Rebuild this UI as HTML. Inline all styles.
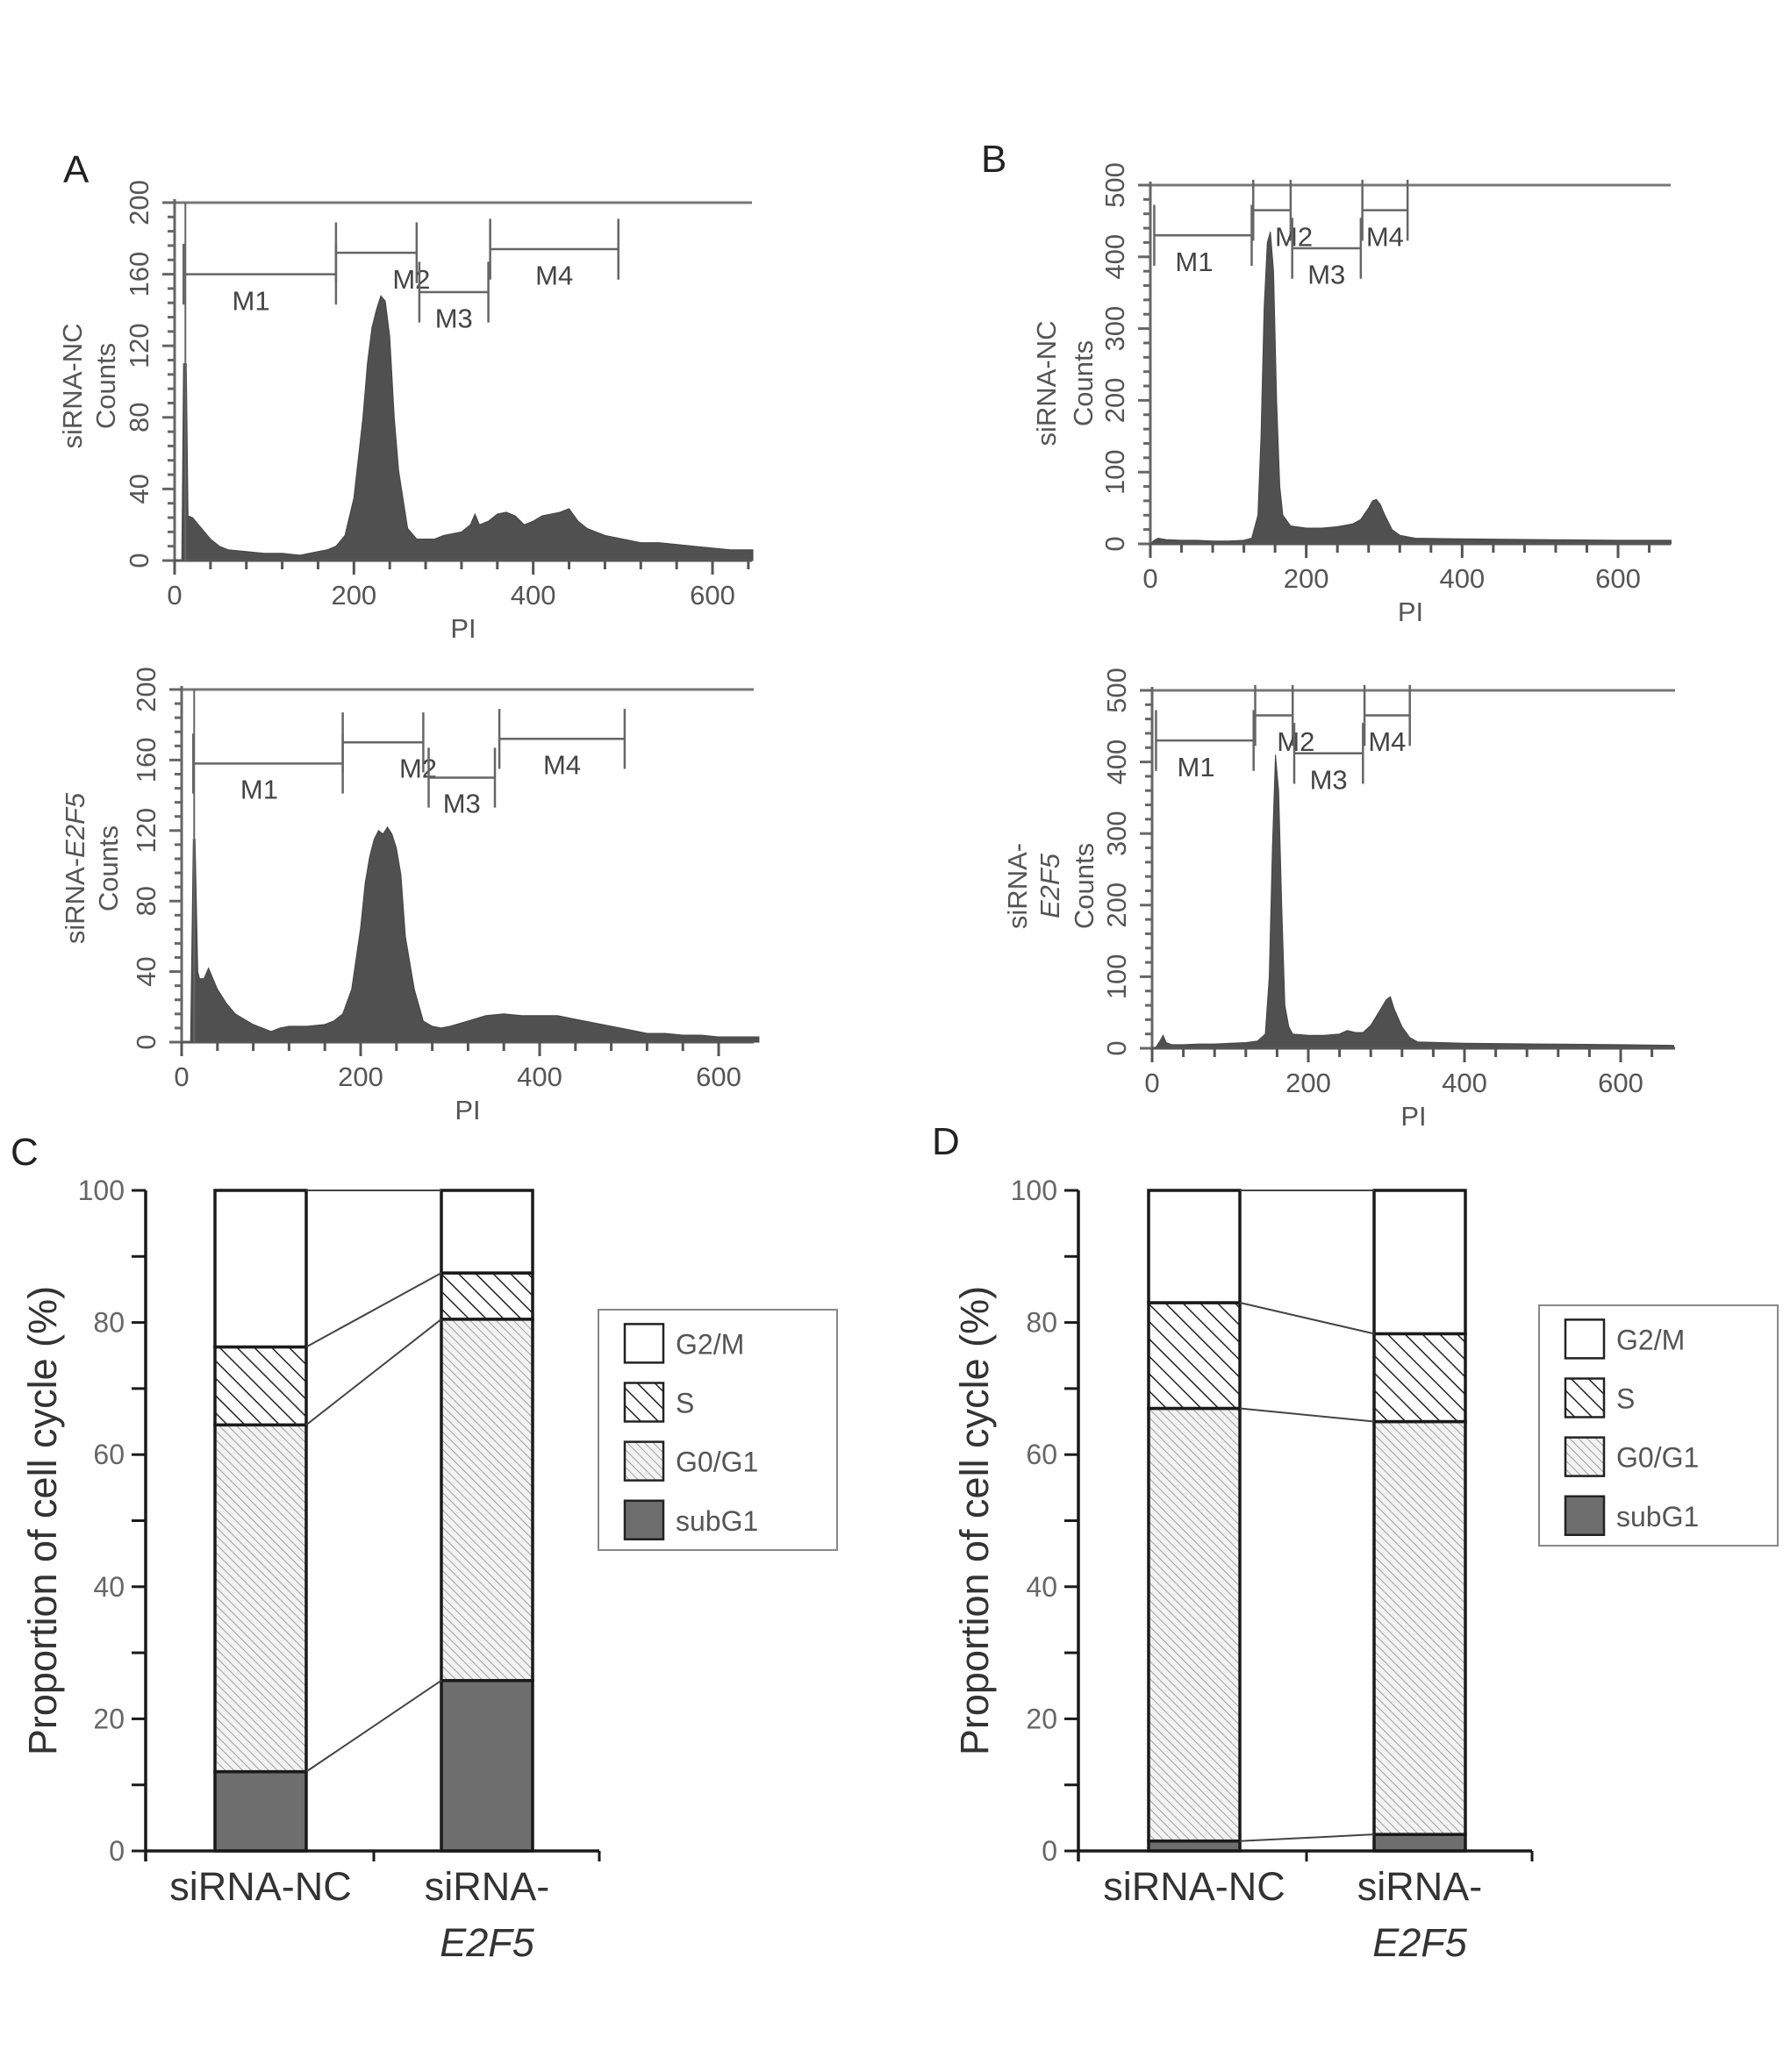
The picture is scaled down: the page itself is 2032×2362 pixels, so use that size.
<!DOCTYPE html>
<html><head><meta charset="utf-8">
<style>
html,body{margin:0;padding:0;background:#fff;}
svg{display:block;}
text{font-family:"Liberation Sans",Arial,sans-serif;}
</style></head>
<body>
<svg id="fig" xmlns="http://www.w3.org/2000/svg" width="2032" height="2362" viewBox="0 0 2032 2362">
<defs>
<pattern id="patG1" patternUnits="userSpaceOnUse" width="7" height="7" patternTransform="rotate(-45)">
<rect width="7" height="7" fill="#f2f2f2"/><line x1="0" y1="0" x2="0" y2="7" stroke="#8a8a8a" stroke-width="1.6"/></pattern>
<pattern id="patS" patternUnits="userSpaceOnUse" width="14" height="14" patternTransform="rotate(-45)">
<rect width="14" height="14" fill="#fff"/><line x1="0" y1="0" x2="0" y2="14" stroke="#222" stroke-width="3"/></pattern>
</defs>
<text x="72" y="208" font-size="44" fill="#222">A</text>
<text x="1118" y="196" font-size="44" fill="#222">B</text>
<text x="12" y="1328" font-size="44" fill="#222">C</text>
<text x="1062" y="1316" font-size="44" fill="#222">D</text>
<g id="hists"></g>
<g id="bars"></g>
</svg>
<script>
// ---------- Histogram data (PI value, counts) ----------
const aTopPI =    [0,8,10,13,15,20,30,40,50,60,80,100,120,140,160,170,180,190,200,210,215,220,225,230,235,240,245,250,260,270,280,290,300,310,320,330,335,340,350,360,370,380,390,400,410,420,430,440,450,460,480,500,520,540,560,580,600,620,640,645];
const aTopCnt =   [0,0,110,110,25,24,18,12,8,6,5,4,4,3,5,6,8,14,35,80,110,130,140,148,145,125,80,50,18,12,12,12,14,15,16,20,26,20,22,26,27,25,20,22,25,26,27,29,22,18,14,12,10,10,9,8,7,6,6,6];
const aBotPI =    [0,10,13,15,18,20,25,30,40,50,60,70,80,90,100,110,120,140,160,170,180,190,200,205,210,215,220,225,230,235,240,245,250,260,270,280,290,300,320,340,360,380,400,420,440,460,480,500,520,540,560,580,600,620,645];
const aBotCnt =   [0,0,115,115,40,36,36,42,30,22,16,13,10,8,6,8,9,9,10,12,16,30,65,90,105,115,120,118,122,118,110,95,60,30,12,9,8,9,12,15,16,15,15,15,13,11,9,7,5,5,4,4,3,3,3];
const bTopPI =    [0,5,10,20,40,60,80,100,120,130,138,142,146,150,154,158,162,166,170,180,200,220,240,260,270,280,285,290,295,300,310,320,340,400,500,600,668];
const bTopCnt =   [0,5,8,6,5,5,4,4,5,8,40,150,330,420,435,380,200,80,40,25,22,22,24,28,34,50,60,62,55,42,20,12,8,7,6,5,5];
const bBotPI =    [0,5,10,14,18,25,40,60,80,100,120,135,145,150,154,158,162,166,170,175,180,200,220,240,250,260,270,280,290,300,305,310,320,330,340,400,500,600,668];
const bBotCnt =   [0,2,10,18,8,5,5,6,6,7,8,10,20,100,280,410,360,200,60,30,20,18,18,20,25,22,22,32,50,68,72,55,30,15,9,7,6,5,4];
// gate markers: [start, end] and level (counts)
const aTopGateStart=[10,180,273,352]; const aTopGateEnd=[180,270,350,495]; const aTopGateLvl=[160,172,150,174];
const aBotGateStart=[13,180,276,355]; const aBotGateEnd=[180,270,350,495]; const aBotGateLvl=[158,170,150,172];
const bTopGateStart=[5,132,182,272]; const bTopGateEnd=[130,180,270,330]; const bTopGateLvl=[430,465,412,465];
const bBotGateStart=[5,132,182,272]; const bBotGateEnd=[130,180,270,330]; const bBotGateLvl=[430,465,412,465];
const gateNames=["M1","M2","M3","M4"];
const aYTicks=[0,40,80,120,160,200];
const bYTicks=[0,100,200,300,400,500];
const xTicks=[0,200,400,600];

// ---------- Stacked bar data (%) ----------
const groups=["siRNA-NC","siRNA-E2F5"];
const phases=["subG1","G0/G1","S","G2/M"];
const cSubG1=[12,25.8], cG0G1=[52.5,54.7], cS=[11.8,7.0], cG2M=[23.7,12.5];
const dSubG1=[1.5,2.5], dG0G1=[65.5,62.5], dS=[16,13.3], dG2M=[17,21.7];
const pctTicks=[0,20,40,60,80,100];

const NS="http://www.w3.org/2000/svg";
function mk(tag,attrs,parent){const e=document.createElementNS(NS,tag);for(const k in attrs)e.setAttribute(k,attrs[k]);parent.appendChild(e);return e;}

function histogram(cfg){
  const g=mk('g',{},document.getElementById('hists'));
  
  
  const sx=v=>cfg.px0+(v)*(cfg.px600-cfg.px0)/600;
  const sy=v=>cfg.yBase-(v)*(cfg.yBase-cfg.yTop)/cfg.max;
  let d='M'+sx(cfg.pi[0])+','+cfg.yBase;
  for(let i=0;i<cfg.pi.length;i++){d+=' L'+sx(cfg.pi[i]).toFixed(1)+','+sy(cfg.cnt[i]).toFixed(1);}
  d+=' L'+sx(cfg.pi[cfg.pi.length-1]).toFixed(1)+','+cfg.yBase+' Z';
  const area=mk('path',{d:d,fill:'#505050',stroke:'#454545','stroke-width':1},g);
  
  
  mk('line',{x1:cfg.px0,y1:cfg.yTop,x2:cfg.right,y2:cfg.yTop,stroke:'#777','stroke-width':3},g);
  const ya=mk('line',{x1:cfg.px0,y1:cfg.yTop-4,x2:cfg.px0,y2:cfg.yBase+4,stroke:'#666','stroke-width':3},g);
  
  
  const xa=mk('line',{x1:cfg.px0-14,y1:cfg.yBase,x2:cfg.right,y2:cfg.yBase,stroke:'#555','stroke-width':3},g);
  
  
  for(let v=0;v<=cfg.max;v+=cfg.minor){const y=sy(v);const major=cfg.yticks.includes(v);
    mk('line',{x1:cfg.px0-(major?14:8),y1:y,x2:cfg.px0,y2:y,stroke:'#666','stroke-width':3},g);}
  cfg.yticks.forEach(v=>{const y=sy(v);const t=mk('text',{x:0,y:0,'font-size':31,fill:'#555','text-anchor':'middle',transform:`translate(${cfg.px0-30},${y}) rotate(-90)`},g);t.textContent=v;
    
    });
  for(let v=0;v<=660;v+=40){const x=sx(v);if(x>cfg.right)break;const major=xTicks.includes(v);
    mk('line',{x1:x,y1:cfg.yBase,x2:x,y2:cfg.yBase+(major?16:10),stroke:'#555','stroke-width':3},g);}
  xTicks.forEach(v=>{const t=mk('text',{x:sx(v),y:cfg.yBase+50,'font-size':31,fill:'#555','text-anchor':'middle'},g);t.textContent=v;
    
    });
  const xl=mk('text',{x:(cfg.px0+cfg.right)/2,y:cfg.yBase+88,'font-size':31,fill:'#555','text-anchor':'middle'},g);xl.textContent='PI';
  
  
  cfg.ytitle.forEach((line,i)=>{const t=mk('text',{x:0,y:0,'font-size':31,fill:'#555','text-anchor':'middle',transform:`translate(${line.x},${cfg.ymid}) rotate(-90)`},g);
    if(line.parts){line.parts.forEach(p=>{const s=mk('tspan',{'font-style':p[1]?'italic':'normal'},t);s.textContent=p[0];});}else t.textContent=line.s;
    
    });
  if(cfg.vline!==undefined) mk('line',{x1:sx(cfg.vline),y1:cfg.yTop,x2:sx(cfg.vline),y2:cfg.yBase,stroke:'#666','stroke-width':2},g);
  const h=(cfg.yBase-cfg.yTop)*0.085;
  for(let i=0;i<4;i++){
    const gg=mk('g',{stroke:'#666','stroke-width':2.5},g);
    
    
    const x1=sx(cfg.gs[i]),x2=sx(cfg.ge[i]),y=sy(cfg.gl[i]);
    mk('line',{x1:x1,y1:y,x2:x2,y2:y},gg);
    mk('line',{x1:x1,y1:y-h,x2:x1,y2:y+h},gg);
    mk('line',{x1:x2,y1:y-h,x2:x2,y2:y+h},gg);
    const t=mk('text',{x:(x1+x2)/2+cfg.lblOff[i],y:y+h+6,'font-size':31,fill:'#444',stroke:'none','text-anchor':'middle'},g);
    t.textContent=gateNames[i];
    
    
  }
}
histogram({name:'histogram-a-sirna-nc',pi:aTopPI,cnt:aTopCnt,px0:199,px600:812,right:857,yTop:231,yBase:639,max:200,minor:8,yticks:aYTicks,
  gs:aTopGateStart,ge:aTopGateEnd,gl:aTopGateLvl,lblOff:[-10,40,0,0],vline:12,ymid:440,
  ytitle:[{x:93,s:'siRNA-NC'},{x:131,s:'Counts'}]});
histogram({name:'histogram-a-sirna-e2f5',pi:aBotPI,cnt:aBotCnt,px0:207,px600:819,right:859,yTop:786,yBase:1188,max:200,minor:8,yticks:aYTicks,
  gs:aBotGateStart,ge:aBotGateEnd,gl:aBotGateLvl,lblOff:[-10,40,0,0],vline:14,ymid:990,
  ytitle:[{x:96,parts:[['siRNA-',false],['E2F5',true]]},{x:134,s:'Counts'}]});
histogram({name:'histogram-b-sirna-nc',pi:bTopPI,cnt:bTopCnt,px0:1311,px600:1844,right:1904,yTop:211,yBase:620,max:500,minor:20,yticks:bYTicks,
  gs:bTopGateStart,ge:bTopGateEnd,gl:bTopGateLvl,lblOff:[-10,25,0,0],ymid:437,
  ytitle:[{x:1203,s:'siRNA-NC'},{x:1245,s:'Counts'}]});
histogram({name:'histogram-b-sirna-e2f5',pi:bBotPI,cnt:bBotCnt,px0:1313,px600:1847,right:1909,yTop:787,yBase:1195,max:500,minor:20,yticks:bYTicks,
  gs:bBotGateStart,ge:bBotGateEnd,gl:bBotGateLvl,lblOff:[-10,25,0,0],ymid:1010,
  ytitle:[{x:1170,s:'siRNA-'},{x:1207,parts:[['E2F5',true]]},{x:1246,s:'Counts'}]});

function stacked(cfg){
  const g=mk('g',{},document.getElementById('bars'));
  
  
  const sy=v=>cfg.y0-v*(cfg.y0-cfg.y100)/100;
  const series=[cfg.sub,cfg.g1,cfg.s,cfg.g2];
  const fills=['#6e6e6e','url(#patG1)','url(#patS)','#fff'];
  const tops=[];
  groups.forEach((grp,gi)=>{
    let cum=0;const t=[];
    series.forEach((arr,si)=>{
      const r=mk('rect',{x:cfg.bx[gi],y:sy(cum+arr[gi]),width:cfg.bw,height:sy(cum)-sy(cum+arr[gi]),fill:fills[si],stroke:'#1a1a1a','stroke-width':3.5},g);
      
      
      cum+=arr[gi];t.push(cum);
    });
    tops.push(t);
  });
  for(let k=0;k<4;k++){
    const c=mk('line',{x1:cfg.bx[0]+cfg.bw,y1:sy(tops[0][k]),x2:cfg.bx[1],y2:sy(tops[1][k]),stroke:'#444','stroke-width':2},g);
    
    
  }
  const ya=mk('line',{x1:cfg.ax,y1:cfg.y100,x2:cfg.ax,y2:cfg.y0+12,stroke:'#1a1a1a','stroke-width':3.5},g);
  
  
  const xa=mk('line',{x1:cfg.ax,y1:cfg.y0,x2:cfg.axEnd,y2:cfg.y0,stroke:'#1a1a1a','stroke-width':3.5},g);
  
  
  mk('line',{x1:cfg.mid,y1:cfg.y0,x2:cfg.mid,y2:cfg.y0+12,stroke:'#1a1a1a','stroke-width':3},g);
  mk('line',{x1:cfg.axEnd,y1:cfg.y0,x2:cfg.axEnd,y2:cfg.y0+12,stroke:'#1a1a1a','stroke-width':3},g);
  for(let v=0;v<=100;v+=10){mk('line',{x1:cfg.ax-16,y1:sy(v),x2:cfg.ax,y2:sy(v),stroke:'#1a1a1a','stroke-width':3},g);}
  pctTicks.forEach(v=>{const t=mk('text',{x:cfg.ax-24,y:sy(v)+11,'font-size':32,fill:'#666','text-anchor':'end'},g);t.textContent=v;
    
    });
  const yt=mk('text',{x:0,y:0,'font-size':45,fill:'#333','text-anchor':'middle',transform:`translate(${cfg.ytx},${(cfg.y0+cfg.y100)/2}) rotate(-90)`},g);
  yt.textContent='Proportion of cell cycle (%)';
  
  
  const c1=mk('text',{x:cfg.bx[0]+cfg.bw/2,y:cfg.y0+56,'font-size':45,fill:'#333','text-anchor':'middle'},g);c1.textContent='siRNA-NC';
  
  
  const c2=mk('text',{x:cfg.bx[1]+cfg.bw/2,y:cfg.y0+56,'font-size':45,fill:'#333','text-anchor':'middle'},g);c2.textContent='siRNA-';
  
  
  const c3=mk('text',{x:cfg.bx[1]+cfg.bw/2,y:cfg.y0+120,'font-size':45,fill:'#333','text-anchor':'middle','font-style':'italic'},g);c3.textContent='E2F5';
  
  
  const lg=mk('g',{},g);
  
  
  mk('rect',{x:cfg.lx,y:cfg.ly,width:cfg.lw,height:cfg.lh,fill:'#fff',stroke:'#888','stroke-width':2},lg);
  const lf=['#fff','url(#patS)','url(#patG1)','#6e6e6e'];const ln=['G2/M','S','G0/G1','subG1'];
  for(let i=0;i<4;i++){
    const e=mk('g',{},lg);
    
    
    const yy=cfg.ly+cfg.lh*(0.14+0.245*i);
    mk('rect',{x:cfg.lx+30,y:yy-22,width:44,height:44,fill:lf[i],stroke:'#222','stroke-width':2.5},e);
    const t=mk('text',{x:cfg.lx+88,y:yy+12,'font-size':32,fill:'#555'},e);t.textContent=ln[i];
  }
}
stacked({name:'chart-c',sub:cSubG1,g1:cG0G1,s:cS,g2:cG2M,y0:2110,y100:1357,ax:166,axEnd:683,mid:426,bx:[245,503],bw:104,ytx:64,lx:682,ly:1493,lw:272,lh:274});
stacked({name:'chart-d',sub:dSubG1,g1:dG0G1,s:dS,g2:dG2M,y0:2110,y100:1357,ax:1229,axEnd:1746,mid:1489,bx:[1309,1566],bw:104,ytx:1126,lx:1754,ly:1488,lw:272,lh:274});
</script>
</body></html>
